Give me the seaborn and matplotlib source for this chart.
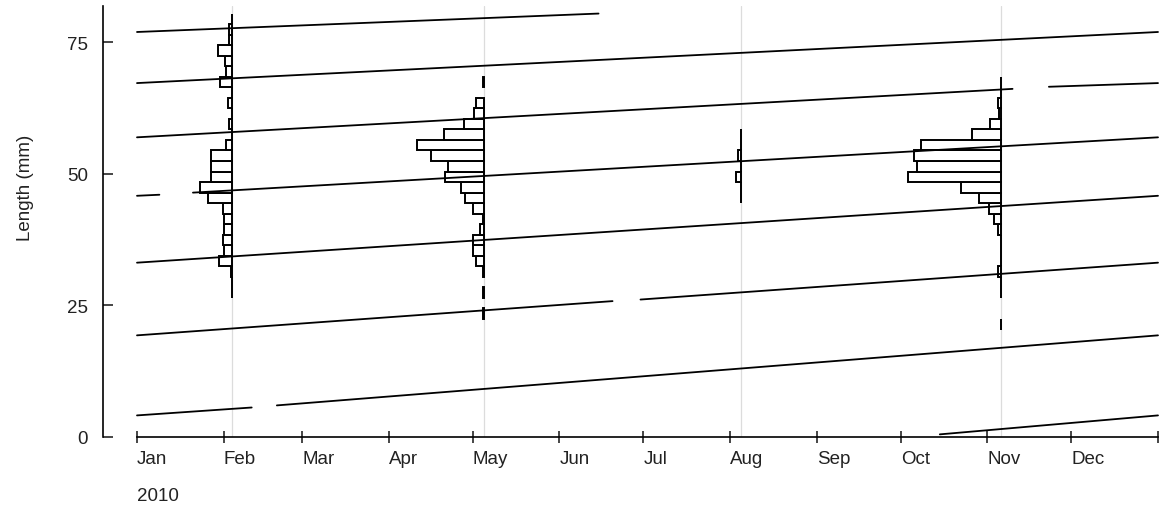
import numpy as np
import pandas as pd
import matplotlib
matplotlib.use("Agg")
import matplotlib.pyplot as plt
import seaborn as sns

# ---------------- data ----------------
origin = "2010-01-01"
sample_dates = ["2010-02-04", "2010-05-05", "2010-08-05", "2010-11-06"]
sample_names = ["Feb", "May", "Aug", "Nov"]

# length classes (2 mm bins), class mid-points
length_mid = np.round(np.arange(21.4, 80.0, 2.0), 1)  # 30 classes
bin_width = 2.0

freq_feb = [0, 0, 0, 0.5, 0.5, 1, 13, 8, 9, 8, 8, 9, 24, 32, 21, 21, 21, 6,
            0.5, 3, 0.5, 4, 0.5, 12, 6, 7, 14, 3, 3, 0.5]
freq_may = [0, 0.5, 0, 0.5, 0, 0.5, 8, 11, 11, 4, 0.5, 11, 19, 23, 39, 36, 53, 67,
            40, 20, 10, 8, 0, 0.5, 0, 0, 0, 0, 0, 0]
freq_aug = [0, 0, 0, 0, 0, 0, 0, 0, 0, 0, 0, 0, 0.5, 0.5, 5, 0.5, 3, 0.5,
            0.5, 0, 0, 0, 0, 0, 0, 0, 0, 0, 0, 0]
freq_nov = [0.5, 0, 0, 0.5, 0.5, 3, 0.5, 0.5, 0.5, 3, 7, 12, 22, 40, 93, 84, 87, 80,
            29, 11, 2, 3, 0.5, 0.5, 0, 0, 0, 0, 0, 0]
freqs = [freq_feb, freq_may, freq_aug, freq_nov]

# growth-curve segments (start date, start length, end date, end length)
seg_name = ["A1", "A2", "B1", "B2", "C", "D1", "D2", "E1", "E2", "F", "G", "H"]
seg_start_date = ["2010-01-01", "2010-02-20", "2010-01-01", "2010-06-30", "2010-01-01",
                  "2010-01-01", "2010-01-21", "2010-01-01", "2010-11-23", "2010-01-01",
                  "2010-01-01", "2010-10-15"]
seg_start_len = [4.1, 6.0, 19.3, 26.1, 33.1, 45.8, 46.4, 56.9, 66.5, 67.2, 76.9, 0.5]
seg_end_date = ["2010-02-11", "2011-01-01", "2010-06-20", "2011-01-01", "2011-01-01",
                "2010-01-09", "2011-01-01", "2010-11-10", "2011-01-01", "2011-01-01",
                "2010-06-15", "2011-01-01"]
seg_end_len = [5.6, 19.3, 25.8, 33.1, 45.8, 46.0, 56.9, 66.1, 67.2, 76.9, 80.4, 4.1]

month_labels = ["Jan", "Feb", "Mar", "Apr", "May", "Jun", "Jul", "Aug", "Sep",
                "Oct", "Nov", "Dec", ""]
year_label = "2010"
y_ticks = [0, 25, 50, 75]

# ---------------- helpers ----------------
t0 = pd.Timestamp(origin)
def day(s):
    return (pd.Timestamp(s) - t0).days

rows = []
for n, sd, sl, ed, el in zip(seg_name, seg_start_date, seg_start_len, seg_end_date, seg_end_len):
    rows.append({"seg": n, "day": day(sd), "length": sl})
    rows.append({"seg": n, "day": day(ed), "length": el})
curves = pd.DataFrame(rows)

month_days = [day(d) for d in pd.date_range("2010-01-01", "2011-01-01", freq="MS")]

# ---------------- style ----------------
sns.set_style("white")
plt.rcParams["font.family"] = ["Liberation Sans", "DejaVu Sans"]
txt_color = "#222222"
FS = 13.5

W, H = 1166, 510
fig = plt.figure(figsize=(W / 100, H / 100), dpi=100)
x0_px, x1_px = 103, 1162
y_top_px, y_bot_px = 7, 438
ax = fig.add_axes([x0_px / W, 1 - y_bot_px / H, (x1_px - x0_px) / W, (y_bot_px - y_top_px) / H])

px_per_day = (1158 - 137) / 365.0
px_per_mm = (438 - 43) / 75.0
ax.set_xlim(-(137 - x0_px) / px_per_day, (x1_px - 137) / px_per_day)
ymax = (y_bot_px - y_top_px) / px_per_mm
ax.set_ylim(0, ymax)

# sample-date grid lines
for d in sample_dates:
    ax.axvline(day(d), color="#dcdcdc", lw=0.9, zorder=0)

# histograms (bars extend to the left of the sample date)
scale = 1.0 / px_per_day  # one frequency unit = one pixel
for d, f in zip(sample_dates, freqs):
    f = np.asarray(f, dtype=float)
    m = f > 0
    w = f[m] * scale
    ax.barh(length_mid[m], w, left=day(d) - w, height=bin_width,
            facecolor="white", edgecolor="black", linewidth=1.4, zorder=2)

# growth curves
sns.lineplot(data=curves, x="day", y="length", units="seg", estimator=None,
             color="black", lw=1.3, ax=ax, zorder=3, legend=False)

# axes styling
for s in ["top", "right"]:
    ax.spines[s].set_visible(False)
ax.spines["left"].set_bounds(0, ymax)
ax.spines["bottom"].set_bounds(0, 365)
for s in ["left", "bottom"]:
    ax.spines[s].set_linewidth(1.2)
    ax.spines[s].set_color("black")

ax.set_xticks(month_days)
ax.set_xticklabels(month_labels)
for lab in ax.get_xticklabels():
    lab.set_ha("left")
ax.tick_params(axis="x", direction="inout", length=8.5, width=1.2, pad=5.0,
               labelsize=FS, labelcolor=txt_color, bottom=True)
ax.set_yticks(y_ticks)
ax.set_yticklabels([str(v) for v in y_ticks])
ax.tick_params(axis="y", direction="in", length=7.2, width=1.2, pad=10.8,
               labelsize=FS, labelcolor=txt_color, left=True)
ax.set_xlabel("")
ax.set_ylabel("")
ax.grid(False)

fig.text(25 / W, 1 - 188 / H, "Length (mm)", rotation=90, ha="center", va="center",
         fontsize=FS, color=txt_color)
fig.text(137 / W, 1 - 497 / H, year_label, ha="left", va="center", fontsize=FS,
         color=txt_color)

fig.savefig("out.png", dpi=100, facecolor="white")
